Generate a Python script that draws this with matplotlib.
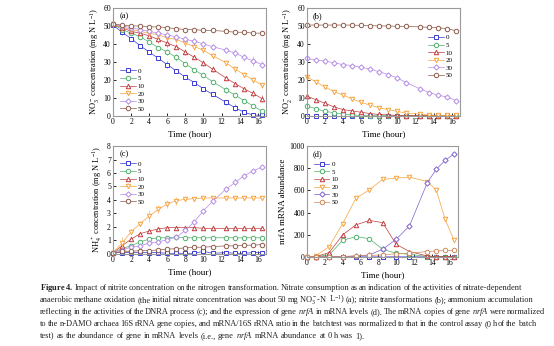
import numpy as np
import matplotlib
matplotlib.use('Agg')
import matplotlib.pyplot as plt
from matplotlib.ticker import MultipleLocator

plt.rcParams['font.family'] = ['Liberation Serif', 'DejaVu Serif']
plt.rcParams['mathtext.fontset'] = 'custom'
plt.rcParams['mathtext.rm'] = 'Liberation Serif'
plt.rcParams['mathtext.it'] = 'Liberation Serif:italic'
plt.rcParams['mathtext.bf'] = 'Liberation Serif:bold'

# sampling times (hour)
t_batch = [0, 1, 2, 3, 4, 5, 6, 7, 8, 9, 10, 11, 12.5, 13.5, 14.5, 15.5, 16.5]
t_mrna = [0, 1, 2.5, 4, 5.5, 7, 8.5, 10, 11.5, 13.5, 14.5, 15.5, 16.5]

levels = ['0', '5', '10', '20', '30', '50']
colours = ['#3a3ad6', '#4fb06c', '#c23b3d', '#f7a33c', '#b48be6', '#8e5b4c']
markers = ['s', 'o', '^', 'v', 'D', 'o']

# (a) nitrate, mg N/L
no3 = [
    [50.5, 46.5, 43, 39, 35.5, 32, 28.5, 25, 21.5, 18.5, 15, 12, 7.5, 4.5, 2, 0.5, 0.3],
    [51, 48, 46, 44, 41, 38, 35.5, 32.5, 29, 25.5, 22.5, 19, 14.5, 11.5, 8.5, 5.5, 2.5],
    [51, 49, 47, 46, 44.5, 42.5, 40.5, 38.5, 35.5, 32.5, 29.5, 26, 21, 18, 15, 12.5, 9.5],
    [51, 49.5, 48, 47, 46, 45, 43.5, 42.5, 40.5, 38.5, 36.5, 33.5, 29.5, 26, 23, 20, 17],
    [51, 50, 49, 48, 47, 46, 45, 44, 42.5, 41.5, 40, 38.5, 36.5, 35, 32.5, 30.5, 28.5],
    [51, 50.5, 50, 50, 49.5, 49.5, 49, 48.5, 48, 48, 47.5, 47.5, 47, 46.5, 46.5, 46, 46],
]
no3_err = [
    [0.5, 1.5, 1, 1, 0.5, 1, 2, 0.5, 0.5, 0.5, 0.5, 1, 1.5, 2, 1, 0.5, 0.5],
    [0.5, 1, 1, 1, 0.5, 1, 1.5, 2, 1, 1, 1, 1, 1.5, 1, 1, 0.5, 1],
    [0.5, 1, 1, 1, 1, 2, 2, 1.5, 1.5, 1, 1.5, 1.5, 1, 1, 1, 2, 2],
    [0.5, 1, 1, 1, 1, 1.5, 2, 2, 2, 2, 1.5, 1.5, 1.5, 2, 1.5, 1.5, 1.5],
    [0.5, 1, 1, 1, 1, 1.5, 1.5, 1.5, 2, 2, 1.5, 1.5, 1.5, 2, 2, 3, 2],
    [0.5, 0.5, 0.5, 0.5, 0.5, 0.5, 0.5, 0.5, 0.5, 0.5, 0.5, 0.5, 0.5, 0.5, 0.5, 0.5, 0.5],
]

# (b) nitrite, mg N/L
no2 = [
    [0.2, 0.2, 0.2, 0.2, 0.2, 0.2, 0.2, 0.2, 0.2, 0.2, 0.2, 0.2, 0.2, 0.2, 0.2, 0.2, 0.2],
    [5.5, 4, 2.5, 1.8, 1, 0.5, 0.3, 0.2, 0.1, 0.1, 0.1, 0.1, 0.1, 0.1, 0.1, 0.1, 0.1],
    [11, 9, 7, 5, 3.5, 2.8, 2, 1.3, 0.8, 0.5, 0.3, 0.2, 0.1, 0.1, 0.1, 0.1, 0.1],
    [21.5, 19, 16, 13.5, 11.5, 9.5, 7.5, 6, 4.5, 3.5, 2.5, 1.5, 1, 0.5, 0.3, 0.3, 0.3],
    [32, 31, 30.5, 29.5, 28.5, 28, 27, 26, 24.5, 23, 21, 18.5, 15, 13, 11.5, 10.5, 8.5],
    [50.5, 50.5, 50.5, 50.5, 50.5, 50.5, 50.3, 50.2, 50, 50, 49.8, 49.7, 49.5, 49.2, 49, 48.5, 47.3],
]
no2_err = [
    [0.1] * 17,
    [0.5, 0.5, 0.5, 0.3, 0.3, 0.2, 0.2, 0.1, 0.1, 0.1, 0.1, 0.1, 0.1, 0.1, 0.1, 0.1, 0.1],
    [0.5, 0.5, 0.5, 0.5, 0.5, 0.3, 0.3, 0.2, 0.2, 0.1, 0.1, 0.1, 0.1, 0.1, 0.1, 0.1, 0.1],
    [0.5, 0.5, 0.8, 0.5, 0.5, 0.5, 0.5, 0.5, 0.3, 0.3, 0.3, 0.2, 0.2, 0.1, 0.1, 0.1, 0.1],
    [1, 1, 1.5, 1.5, 1, 1, 1, 1, 1, 1, 1, 1, 1, 1, 1, 1, 1],
    [0.5, 0.5, 0.5, 0.5, 0.5, 0.5, 0.5, 0.5, 0.5, 0.5, 0.5, 0.5, 1, 0.8, 0.8, 0.8, 0.8],
]

# (c) ammonium, mg N/L
nh4 = [
    [0.1, 0.1, 0.1, 0.1, 0.1, 0.1, 0.05, 0.05, 0.05, 0.05, 0.2, 0.05, 0.1, 0.05, 0.05, 0.1, 0.1],
    [0.1, 0.4, 0.6, 0.9, 1.1, 1.2, 1.2, 1.25, 1.2, 1.2, 1.2, 1.2, 1.2, 1.2, 1.2, 1.2, 1.2],
    [0.1, 0.6, 1.1, 1.5, 1.7, 1.85, 1.95, 1.95, 1.95, 1.95, 1.9, 1.9, 1.9, 1.9, 1.9, 1.9, 1.9],
    [0.1, 0.8, 1.65, 2.25, 2.8, 3.3, 3.7, 3.95, 4.05, 4.1, 4.15, 4.15, 4.15, 4.15, 4.15, 4.15, 4.15],
    [0.1, 0.3, 0.5, 0.6, 0.8, 0.9, 1.05, 1.25, 1.75, 2.4, 3.2, 3.9, 4.8, 5.3, 5.8, 6.15, 6.45],
    [0.05, 0.2, 0.2, 0.25, 0.25, 0.3, 0.35, 0.4, 0.45, 0.5, 0.5, 0.55, 0.6, 0.6, 0.65, 0.65, 0.7],
]
nh4_err = [
    [0.05] * 17,
    [0.05, 0.1, 0.1, 0.1, 0.1, 0.1, 0.1, 0.1, 0.05, 0.05, 0.05, 0.05, 0.05, 0.05, 0.05, 0.05, 0.05],
    [0.05, 0.1, 0.1, 0.1, 0.1, 0.1, 0.1, 0.1, 0.1, 0.1, 0.1, 0.05, 0.05, 0.05, 0.05, 0.05, 0.05],
    [0.05, 0.45, 0.2, 0.2, 0.45, 0.3, 0.3, 0.3, 0.15, 0.1, 0.1, 0.1, 0.1, 0.1, 0.1, 0.1, 0.1],
    [0.05, 0.1, 0.1, 0.1, 0.1, 0.1, 0.1, 0.1, 0.15, 0.15, 0.15, 0.2, 0.2, 0.3, 0.15, 0.1, 0.1],
    [0.05, 0.05, 0.05, 0.05, 0.05, 0.05, 0.05, 0.05, 0.05, 0.05, 0.05, 0.1, 0.05, 0.05, 0.05, 0.05, 0.05],
]

# (d) nrfA mRNA abundance (relative to 0 h)
nrfa = [
    [1, 1, 2, 2, 2, 2, 2, 2, 2, 2, 2, 2, 2],
    [1, 5, 20, 150, 185, 165, 70, 35, 25, 5, 3, 3, 3],
    [1, 5, 40, 200, 290, 330, 310, 115, 50, 10, 5, 5, 5],
    [1, 10, 95, 300, 530, 605, 700, 710, 720, 680, 605, 340, 150],
    [1, 1, 3, 5, 10, 20, 70, 160, 280, 670, 790, 870, 930],
    [1, 1, 5, 5, 10, 15, 20, 30, 35, 50, 55, 60, 60],
]

caption = [
    r'$\mathbf{Figure\;4.}$ Impact of nitrite concentration on the nitrogen transformation. '
    r'Nitrate consumption as an indication of the activities of nitrate-dependent',
    r'anaerobic methane oxidation (the initial nitrate concentration was about 50 mg '
    r'NO$_3^-$-N L$^{-1}$) (a); nitrite transformations (b); ammonium accumulation',
    r'reflecting in the activities of the DNRA process (c); and the expression of gene '
    r'$\mathit{nrfA}$ in mRNA levels (d). The mRNA copies of gene $\mathit{nrfA}$ were normalized',
    r'to the n-DAMO archaea 16S rRNA gene copies, and mRNA/16S rRNA ratio in the batch '
    r'test was normalized to that in the control assay (0 h of the batch',
    r'test) as the abundance of gene in mRNA levels (i.e., gene $\mathit{nrfA}$ mRNA '
    r'abundance at 0 h was 1).',
]


def style_axes(ax, ymax, ystep, letter):
    ax.set_xlim(0, 16.9)
    ax.set_ylim(0, ymax)
    ax.xaxis.set_major_locator(MultipleLocator(2))
    ax.yaxis.set_major_locator(MultipleLocator(ystep))
    ax.tick_params(direction='in', length=2, width=0.6, labelsize=5.5, pad=1.5)
    for s in ax.spines.values():
        s.set_color('#9a9a9a')
        s.set_linewidth(0.8)
    ax.set_xlabel('Time (hour)', fontsize=6.5, labelpad=3)
    ax.text(0.04, 0.96, letter, transform=ax.transAxes, fontsize=6,
            ha='left', va='top')


def plot_series(ax, x, ys, errs=None, colours=colours):
    for i, y in enumerate(ys):
        c = colours[i]
        if errs is not None:
            ax.errorbar(x, y, yerr=errs[i], fmt='none', ecolor=c,
                        elinewidth=0.5, capsize=0, alpha=0.8, clip_on=False)
        ms = 2.7 if markers[i] == 'D' else 3.2
        ax.plot(x, y, '-', color=c, lw=0.5, marker=markers[i], ms=ms,
                mfc='white', mec=c, mew=0.7, label=levels[i], clip_on=False)


def add_legend(ax, loc, anchor):
    ax.legend(loc=loc, bbox_to_anchor=anchor, frameon=False, fontsize=5,
              handlelength=2.2, handletextpad=0.3, labelspacing=0.25,
              borderaxespad=0.2)


def justified_text(fig, lines, x0, x1, y0, dy, size):
    # spread words over [x0, x1] in pixels, last line left as is
    renderer = fig.canvas.get_renderer()
    W, H = fig.bbox.width, fig.bbox.height
    space = size * 0.25 * fig.dpi / 72
    for k, line in enumerate(lines):
        words = line.split(' ')
        y = 1 - (y0 + dy * k) / H
        items = [fig.text(0, y, w, fontsize=size, va='center', color='#222222')
                 for w in words]
        widths = [t.get_window_extent(renderer).width for t in items]
        if k == len(lines) - 1:
            gap = space
        else:
            gap = max((x1 - x0 - sum(widths)) / (len(words) - 1), 0.6 * space)
        x = x0
        for t, w in zip(items, widths):
            t.set_x(x / W)
            x += w + gap


if __name__ == '__main__':
    fig = plt.figure(figsize=(5.54, 3.46), dpi=100)

    ax_a = fig.add_axes([0.204, 0.665, 0.276, 0.312])
    plot_series(ax_a, t_batch, no3, no3_err)
    style_axes(ax_a, 60, 10, '(a)')
    ax_a.set_ylabel(r'NO$_3^-$ concentration (mg N L$^{-1}$)', fontsize=6, labelpad=2)
    add_legend(ax_a, 'lower left', (0.02, 0.0))

    ax_b = fig.add_axes([0.554, 0.665, 0.276, 0.312])
    plot_series(ax_b, t_batch, no2, no2_err)
    style_axes(ax_b, 60, 10, '(b)')
    ax_b.set_ylabel(r'NO$_2^-$ concentration (mg N L$^{-1}$)', fontsize=6, labelpad=2)
    add_legend(ax_b, 'center right', (0.98, 0.55))

    ax_c = fig.add_axes([0.204, 0.266, 0.276, 0.312])
    plot_series(ax_c, t_batch, nh4, nh4_err)
    style_axes(ax_c, 8, 1, '(c)')
    ax_c.set_ylabel(r'NH$_4^+$ concentration (mg N L$^{-1}$)', fontsize=6, labelpad=2)
    add_legend(ax_c, 'upper left', (0.02, 0.9))

    ax_d = fig.add_axes([0.554, 0.257, 0.272, 0.321])
    d_colours = colours[:4] + ['#7f5fcc', '#d08a5c']
    plot_series(ax_d, t_mrna, nrfa, colours=d_colours)
    style_axes(ax_d, 1000, 200, '(d)')
    ax_d.set_ylabel('nrfA mRNA abundance', fontsize=6.5, labelpad=2)
    add_legend(ax_d, 'upper left', (0.02, 0.9))

    justified_text(fig, caption, 40, 515, 288, 12, 6.0)

    fig.savefig('out.png', dpi=100)
